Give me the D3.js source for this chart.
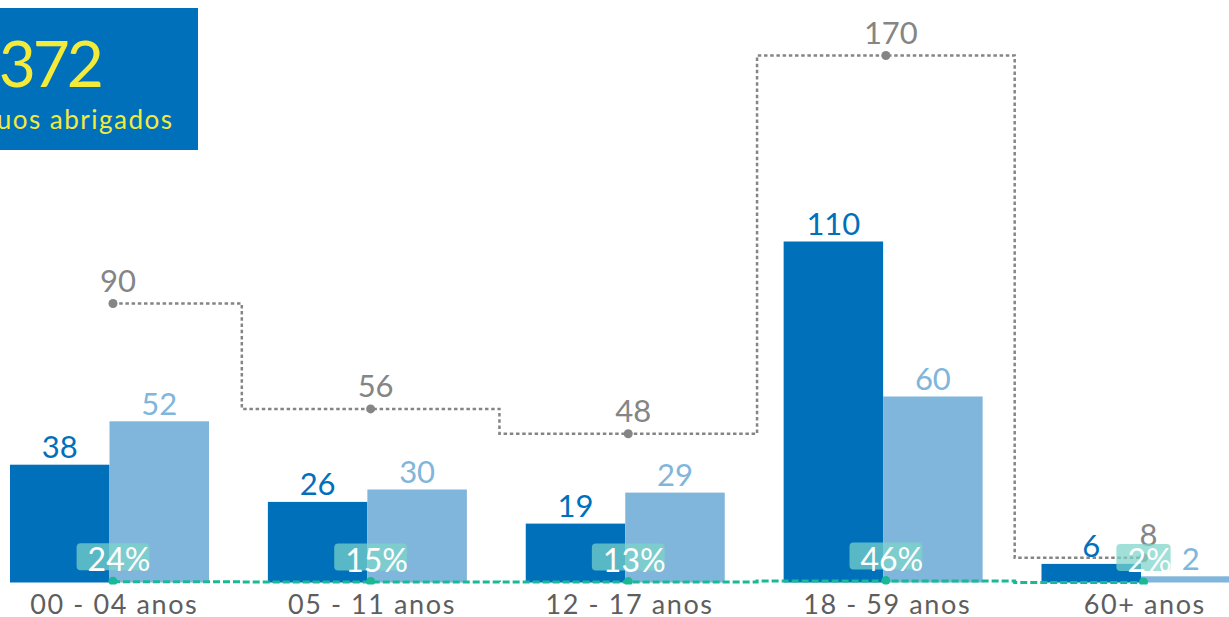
<!DOCTYPE html>
<html>
<head>
<meta charset="utf-8">
<script src="https://cdn.jsdelivr.net/npm/d3@7/dist/d3.min.js"></script>
<style>
  html, body { margin: 0; padding: 0; background: #ffffff; overflow: hidden; }
  svg { display: block; font-family: Lato, "Open Sans", sans-serif; }
</style>
</head>
<body>
<svg id="chart" width="1229" height="617"></svg>
<script>
// ---- data ----
const categories = ["00 - 04 anos", "05 - 11 anos", "12 - 17 anos", "18 - 59 anos", "60+ anos"];
const seriesNames = ["grupoA", "grupoB"];
const seriesA = [38, 26, 19, 110, 6];
const seriesB = [52, 30, 29, 60, 2];
const totals = [90, 56, 48, 170, 8];
const shares = [0.24, 0.15, 0.13, 0.46, 0.02];
const shareLabels = ["24%", "15%", "13%", "46%", "2%"];
const headlineValue = "372";
const headlineText = "indivíduos abrigados";

// ---- styles ----
const C_DARK = "#0070ba";
const C_LIGHT = "#80b6db";
const C_GRAY = "#858585";
const C_TEAL = "#19b996";
const C_AXIS = "#5e5e5e";

const W = 1229, H = 617;
const svg = d3.select("#chart");

// ---- scales ----
const xCenter = d3.scalePoint().domain(categories).range([109.5, 1141]);
const xSub = d3.scaleBand().domain(seriesNames).range([-99.5, 99.5]);
const xLine = d3.scalePoint().domain(categories).range([113, 1143.5]);
const y = d3.scaleLinear().domain([0, 170]).range([582.5, 55.5]);

const rows = categories.map((c, i) => ({
  cat: c, a: seriesA[i], b: seriesB[i], total: totals[i], share: shares[i], shareLabel: shareLabels[i]
}));

// ---- headline box ----
const head = svg.append("g");
head.append("rect").attr("x", -20).attr("y", 8).attr("width", 218).attr("height", 142).attr("fill", C_DARK);
head.append("text").attr("x", 101).attr("y", 87).attr("text-anchor", "end")
  .attr("font-size", 64).attr("letter-spacing", -3).attr("fill", "#f4ea3a").text(headlineValue);
head.append("text").attr("x", 173.5).attr("y", 129).attr("text-anchor", "end")
  .attr("font-size", 26).attr("letter-spacing", 1.5).attr("fill", "#f4ea3a").text(headlineText);

// ---- bars ----
const bars = svg.append("g");
const series = [
  { key: "grupoA", values: seriesA, color: C_DARK },
  { key: "grupoB", values: seriesB, color: C_LIGHT }
];
series.forEach(s => {
  bars.selectAll(null).data(rows).enter().append("rect")
    .attr("x", d => xCenter(d.cat) + xSub(s.key))
    .attr("width", xSub.bandwidth())
    .attr("y", (d, i) => y(s.values[i]))
    .attr("height", (d, i) => y(0) - y(s.values[i]))
    .attr("fill", s.color);
});

// ---- total step line ----
const lineTotal = d3.line().x(d => xLine(d.cat)).y(d => y(d.total)).curve(d3.curveStep);
svg.append("path").datum(rows).attr("d", lineTotal)
  .attr("fill", "none").attr("stroke", C_GRAY).attr("stroke-width", 2.5)
  .attr("stroke-dasharray", "3.5,2.7");

// ---- share step line ----
svg.append("defs").append("clipPath").attr("id", "clipBase")
  .append("rect").attr("x", 0).attr("y", 0).attr("width", W).attr("height", 584.5);
const lineShare = d3.line().x(d => xLine(d.cat)).y(d => y(d.share)).curve(d3.curveStep);
svg.append("path").datum(rows).attr("d", lineShare)
  .attr("fill", "none").attr("stroke", C_TEAL).attr("stroke-width", 3)
  .attr("stroke-dasharray", "7,3");

// ---- points ----
svg.append("g").selectAll("circle").data(rows).enter().append("circle")
  .attr("cx", d => xLine(d.cat)).attr("cy", d => y(d.total)).attr("r", 4.5).attr("fill", C_GRAY);
svg.append("g").attr("clip-path", "url(#clipBase)").selectAll("circle").data(rows).enter().append("circle")
  .attr("cx", d => xLine(d.cat)).attr("cy", d => y(d.share) - 0.5).attr("r", 4.5).attr("fill", C_TEAL);

// ---- bar labels ----
series.forEach(s => {
  svg.append("g").selectAll("text").data(rows).enter().append("text")
    .attr("x", d => xCenter(d.cat) + xSub(s.key) + xSub.bandwidth() / 2)
    .attr("y", (d, i) => y(s.values[i]) - 6.5)
    .attr("text-anchor", "middle").attr("font-size", 31).attr("fill", s.color)
    .text((d, i) => s.values[i]);
});

// ---- total labels ----
svg.append("g").selectAll("text").data(rows).enter().append("text")
  .attr("x", d => xLine(d.cat) + 5)
  .attr("y", d => y(d.total) - 12)
  .attr("text-anchor", "middle").attr("font-size", 31).attr("fill", C_GRAY)
  .text(d => d.total);

// ---- share labels with boxes ----
const shareG = svg.append("g").selectAll("g").data(rows).enter().append("g");
const shareText = shareG.append("text")
  .attr("x", d => xLine(d.cat) + 6)
  .attr("y", d => y(d.share) - 10.5)
  .attr("text-anchor", "middle").attr("font-size", 32).attr("fill", "#ffffff")
  .text(d => d.shareLabel);
shareText.each(function(d) { d._w = this.getComputedTextLength(); });
shareG.insert("rect", "text")
  .attr("x", d => xLine(d.cat) - (d._w + 10) / 2)
  .attr("width", d => d._w + 10)
  .attr("y", d => y(d.share) - 38.5)
  .attr("height", 27)
  .attr("rx", 4).attr("ry", 4)
  .attr("fill", "rgb(124,212,201)").attr("fill-opacity", 0.72);

// ---- category axis ----
const axis = svg.append("g").attr("transform", `translate(0.8,${y(0)})`)
  .call(d3.axisBottom(xLine).tickSize(0).tickPadding(0));
axis.select(".domain").remove();
axis.selectAll("text")
  .attr("y", 31.5).attr("dy", null)
  .attr("font-family", "Lato, 'Open Sans', sans-serif")
  .attr("font-size", 27).attr("letter-spacing", 1.6).attr("fill", C_AXIS);
</script>
</body>
</html>
